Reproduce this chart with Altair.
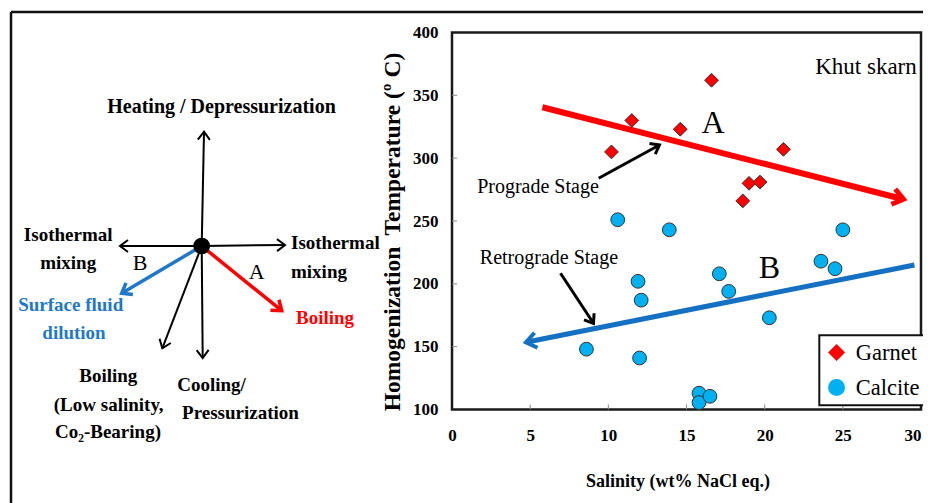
import math
import altair as alt
import pandas as pd

# ---------------- scatter data ----------------
garnet_salinity = [10.2, 11.5, 14.6, 16.6, 18.6, 19.0, 19.7, 21.2]
garnet_th = [305, 330, 323, 362, 266, 280, 281, 307]
calcite_salinity = [8.6, 10.6, 11.9, 12.0, 12.1, 13.9, 15.8, 15.8, 16.5, 17.1, 17.7, 20.3, 23.6, 24.5, 25.0]
calcite_th = [148, 251, 202, 141, 187, 243, 113, 105.5, 110.5, 208, 194, 173, 218, 212, 243]
mineral_names = ["Garnet", "Calcite"]

x_ticks = [0, 5, 10, 15, 20, 25, 30]
y_ticks = [100, 150, 200, 250, 300, 350, 400]

# trend arrows A (prograde), B (retrograde), then the two pointer arrows
arrow_sal_from = [5.78, 29.58, 9.38, 6.94]
arrow_th_from = [340.5, 215.0, 284.0, 208.4]
arrow_sal_to = [28.88, 4.73, 13.27, 9.05]
arrow_th_to = [267.3, 153.5, 310.5, 168.6]

note_labels = ["Khut skarn", "A", "B", "Prograde Stage", "Retrograde Stage"]
note_sal = [29.73, 16.7, 20.3, 5.5, 6.2]
note_th = [372.8, 327.7, 212.4, 277.0, 220.5]

# ---------------- schematic (left panel), units relative to centre dot ----------------
vector_dx = [2.3, 1.0, 83.3, -81.7, -39.4, -80.0, 80.0]
vector_dy = [114.3, -112.0, 1.0, 0.0, -102.3, -47.3, -64.7]

schema_title = ["Heating / Depressurization"]
schema_title_x = [19.8]
schema_title_y = [139.3]
schema_black = ["Isothermal", "mixing", "Boiling", "(Low salinity,", "Co\u2082-Bearing)", "Cooling/", "Pressurization"]
schema_black_x = [-133.5, -133.5, -93.4, -93.0, -93.7, 9.8, 38.8]
schema_black_y = [11.0, -17.3, -130.0, -159.0, -185.7, -139.0, -167.3]
schema_right = ["Isothermal", "mixing"]
schema_right_x = [89.3, 89.3]
schema_right_y = [3.3, -25.7]
schema_blue = ["Surface fluid", "dilution"]
schema_blue_x = [-131.0, -127.7]
schema_blue_y = [-59.0, -87.3]
schema_red = ["Boiling"]
schema_red_x = [94.3]
schema_red_y = [-72.3]
schema_letters = ["A", "B"]
schema_letters_x = [55.0, -61.7]
schema_letters_y = [-25.7, -17.3]

frame_x = [-190.7, 760.0]
frame_y = [234.0, -290.0]

# ---------------- styles ----------------
SERIF = "Liberation Serif"
HEAD = "M-0.75,1L0,0L0.75,1"
RED = "#ff0000"
BLUE_LINE = "#1470c2"
BLUE_TXT = "#1f78c8"

W, H = 469, 377
LW, LH = 370, 377
GAP = 71
KX = W / 30.0
KY = H / 300.0

xs = alt.Scale(domain=[0, 30], nice=False, zero=False)
ys = alt.Scale(domain=[100, 400], nice=False, zero=False)

x_axis = alt.Axis(
    title="Salinity (wt% NaCl eq.)", values=x_ticks, labelFlush=False,
    labelAlign={"condition": {"test": "datum.value >= 30", "value": "right"}, "value": "center"},
    labelPadding=18, titlePadding=29, titleX=225.5, grid=False, domain=False,
    ticks=False, tickSize=0, labelFont=SERIF, labelFontSize=17, labelFontWeight="bold",
    labelColor="black", titleFont=SERIF, titleFontSize=18, titleFontWeight="bold",
    titleColor="black",
)
y_axis = alt.Axis(
    title="Homogenization\u00a0 Temperature (\u00ba C)", values=y_ticks,
    labelPadding=14, titlePadding=8, titleY=199, grid=False, domain=False, ticks=False, tickSize=0,
    labelFont=SERIF, labelFontSize=17, labelFontWeight="bold", labelColor="black",
    titleFont=SERIF, titleFontSize=23.5, titleFontWeight="bold", titleColor="black",
)


def PX(f):
    return alt.X(f, type="quantitative", scale=xs, axis=x_axis)


def PY(f):
    return alt.Y(f, type="quantitative", scale=ys, axis=y_axis)


# ---- points with legend ----
pts = pd.DataFrame({
    "mineral": ["Garnet"] * len(garnet_salinity) + ["Calcite"] * len(calcite_salinity),
    "sal": garnet_salinity + calcite_salinity,
    "th": garnet_th + calcite_th,
})
legend = alt.Legend(
    title=None, orient="none", legendX=LW + GAP + 367.3, legendY=302.8, direction="vertical",
    labelFont=SERIF, labelFontSize=22.5, labelColor="black", symbolSize=290,
    symbolStrokeColor="#1a1a1a", symbolStrokeWidth=1.5, strokeColor="#111111",
    fillColor="white", padding=6, rowPadding=11, labelOffset=8, symbolOpacity=1,
)
points = alt.Chart(pts).mark_point(
    filled=True, size=190, stroke="#333333", strokeWidth=1, opacity=1
).encode(
    x=PX("sal"), y=PY("th"),
    color=alt.Color("mineral:N", scale=alt.Scale(domain=mineral_names, range=[RED, "#00b0f0"]), legend=legend),
    shape=alt.Shape("mineral:N", scale=alt.Scale(domain=mineral_names, range=["diamond", "circle"]), legend=legend),
)


def plot_arrow(i, color, width, head_size, head_width):
    dx = (arrow_sal_to[i] - arrow_sal_from[i]) * KX
    dy = (arrow_th_to[i] - arrow_th_from[i]) * KY
    df = pd.DataFrame({
        "sal": [arrow_sal_from[i]], "th": [arrow_th_from[i]],
        "sal2": [arrow_sal_to[i]], "th2": [arrow_th_to[i]],
        "ang": [math.degrees(math.atan2(dx, dy)) % 360],
    })
    line = alt.Chart(df).mark_rule(color=color, strokeWidth=width, strokeCap="butt").encode(
        x=PX("sal"), y=PY("th"), x2="sal2", y2="th2")
    head = alt.Chart(df).mark_point(
        shape=HEAD, filled=False, size=head_size, color=color, strokeWidth=head_width,
        strokeJoin="miter", opacity=1,
    ).encode(x=PX("sal2"), y=PY("th2"), angle=alt.Angle("ang:Q", scale=None))
    return [line, head]


# inner tick marks
xt = pd.DataFrame({"sal": x_ticks[1:-1]})
xt["th"] = y_ticks[0]
xt["th2"] = y_ticks[0] + 5 / KY
yt = pd.DataFrame({"th": y_ticks[1:-1]})
yt["sal"] = x_ticks[0]
yt["sal2"] = x_ticks[0] + 5 / KX
xtick_layer = alt.Chart(xt).mark_rule(color="#888888", strokeWidth=1).encode(x=PX("sal"), y=PY("th"), y2="th2")
ytick_layer = alt.Chart(yt).mark_rule(color="#888888", strokeWidth=1).encode(y=PY("th"), x=PX("sal"), x2="sal2")

notes = pd.DataFrame({"t": note_labels, "sal": note_sal, "th": note_th})


def note_layer(rows, size, align):
    return alt.Chart(notes.iloc[rows]).mark_text(
        font=SERIF, fontSize=size, align=align, baseline="middle", color="black"
    ).encode(x=PX("sal"), y=PY("th"), text="t:N")


right_layers = [xtick_layer, ytick_layer]
right_layers += plot_arrow(0, RED, 6, 440, 5)
right_layers += plot_arrow(1, BLUE_LINE, 5, 420, 4)
right_layers += plot_arrow(2, "black", 3, 260, 3)
right_layers += plot_arrow(3, "black", 3, 260, 3)
right_layers += [points,
                 note_layer([0], 23, "right"),
                 note_layer([1, 2], 32, "center"),
                 note_layer([3, 4], 20, "center")]

right = alt.layer(*right_layers).properties(
    width=W, height=H, view=alt.ViewBackground(stroke="#1a1a1a", strokeWidth=2.5)
)

# ---------------- left schematic ----------------
lxs = alt.Scale(domain=[-190.7, -190.7 + LW], nice=False, zero=False)
lys = alt.Scale(domain=[-163.5, -163.5 + LH], nice=False, zero=False)


def LX(f):
    return alt.X(f, type="quantitative", scale=lxs, axis=None)


def LY(f):
    return alt.Y(f, type="quantitative", scale=lys, axis=None)


frame = pd.DataFrame({
    "x": [frame_x[0], frame_x[0]], "y": [frame_y[0], frame_y[0]],
    "x2": [frame_x[1], frame_x[0]], "y2": [frame_y[0], frame_y[1]],
})
frame_layer = alt.Chart(frame).mark_rule(color="#111111", strokeWidth=2.5).encode(
    x=LX("x"), y=LY("y"), x2="x2", y2="y2")


def vector_layers(idx, color, width, head_size):
    df = pd.DataFrame({
        "x": [0.0] * len(idx), "y": [0.0] * len(idx),
        "x2": [vector_dx[i] for i in idx], "y2": [vector_dy[i] for i in idx],
        "ang": [math.degrees(math.atan2(vector_dx[i], vector_dy[i])) % 360 for i in idx],
    })
    line = alt.Chart(df).mark_rule(color=color, strokeWidth=width).encode(
        x=LX("x"), y=LY("y"), x2="x2", y2="y2")
    head = alt.Chart(df).mark_point(
        shape=HEAD, filled=False, size=head_size, color=color, strokeWidth=width,
        strokeJoin="miter", opacity=1,
    ).encode(x=LX("x2"), y=LY("y2"), angle=alt.Angle("ang:Q", scale=None))
    return [line, head]


dot = alt.Chart(pd.DataFrame({"x": [0.0], "y": [0.0]})).mark_circle(
    size=280, color="black", opacity=1).encode(x=LX("x"), y=LY("y"))


def schema_text(labels, xv, yv, color, size, align, weight="bold"):
    df = pd.DataFrame({"t": labels, "x": xv, "y": yv})
    return alt.Chart(df).mark_text(
        font=SERIF, fontSize=size, fontWeight=weight, align=align, baseline="middle", color=color
    ).encode(x=LX("x"), y=LY("y"), text="t:N")


left_layers = [frame_layer]
left_layers += vector_layers([0, 1, 2, 3, 4], "black", 2, 256)
left_layers += vector_layers([5], BLUE_TXT, 3.5, 324)
left_layers += vector_layers([6], RED, 3.5, 324)
left_layers += [
    dot,
    schema_text(schema_title, schema_title_x, schema_title_y, "black", 20, "center"),
    schema_text(schema_black, schema_black_x, schema_black_y, "black", 19, "center"),
    schema_text(schema_right, schema_right_x, schema_right_y, "black", 19, "left"),
    schema_text(schema_blue, schema_blue_x, schema_blue_y, BLUE_TXT, 19, "center"),
    schema_text(schema_red, schema_red_x, schema_red_y, RED, 19, "left"),
    schema_text(schema_letters, schema_letters_x, schema_letters_y, "black", 22, "center", "normal"),
]

left = alt.layer(*left_layers).properties(
    width=LW, height=LH, view=alt.ViewBackground(stroke="transparent")
)

chart = alt.hconcat(left, right, spacing=GAP, bounds="flush").properties(
    autosize=alt.AutoSizeParams(type="none"),
    padding={"left": 3, "top": 24.5, "right": 912, "bottom": 462.5},
    background="white",
).configure_legend(strokeWidth=2)

chart.save("out.html", embed_options={"renderer": "svg", "actions": False})
